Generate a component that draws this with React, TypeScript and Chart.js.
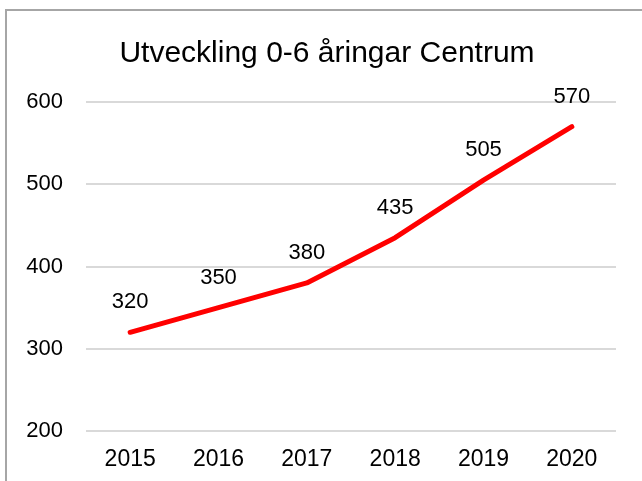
import React, { useEffect, useRef } from "react";
import { Chart, registerables } from "chart.js";

Chart.register(...registerables);

const TITLE = "Utveckling 0-6 åringar Centrum";
const years = ["2015", "2016", "2017", "2018", "2019", "2020"];
const values = [320, 350, 380, 435, 505, 570];
const yMin = 200;
const yMax = 600;
const yStep = 100;

const FONT = "'Liberation Sans', Arial, sans-serif";

const framePlugin = {
  id: "frame",
  beforeDraw(chart: any) {
    const ctx = chart.ctx;
    ctx.save();
    ctx.fillStyle = "#ffffff";
    ctx.fillRect(0, 0, chart.width, chart.height);
    ctx.strokeStyle = "#a6a6a6";
    ctx.lineWidth = 2;
    ctx.beginPath();
    ctx.moveTo(6, chart.height);
    ctx.lineTo(6, 10);
    ctx.lineTo(chart.width, 10);
    ctx.stroke();
    ctx.restore();
  },
};

const titlePlugin = {
  id: "customTitle",
  afterDraw(chart: any) {
    const ctx = chart.ctx;
    ctx.save();
    ctx.fillStyle = "#000000";
    ctx.font = `30px ${FONT}`;
    ctx.textAlign = "center";
    ctx.textBaseline = "alphabetic";
    ctx.fillText(TITLE, 327, 62);
    ctx.restore();
  },
};

const valueLabelPlugin = {
  id: "valueLabels",
  afterDatasetsDraw(chart: any) {
    const ctx = chart.ctx;
    const meta = chart.getDatasetMeta(0);
    const data = chart.data.datasets[0].data;
    ctx.save();
    ctx.fillStyle = "#000000";
    ctx.font = `22px ${FONT}`;
    ctx.textAlign = "center";
    ctx.textBaseline = "alphabetic";
    meta.data.forEach((el: any, i: number) => {
      ctx.fillText(String(data[i]), el.x, el.y - 24);
    });
    ctx.restore();
  },
};

export default function App() {
  const ref = useRef<HTMLCanvasElement | null>(null);

  useEffect(() => {
    document.body.style.margin = "0";
    document.body.style.overflow = "hidden";
    if (!ref.current) return;
    const chart = new Chart(ref.current, {
      type: "line",
      data: {
        labels: years,
        datasets: [
          {
            data: values,
            borderColor: "#ff0000",
            backgroundColor: "#ff0000",
            borderWidth: 5,
            pointRadius: 0,
            tension: 0,
            borderCapStyle: "round",
            borderJoinStyle: "round",
          },
        ],
      },
      options: {
        responsive: false,
        animation: false,
        devicePixelRatio: 1,
        layout: { padding: { top: 102, right: 26, bottom: 0, left: 0 } },
        plugins: {
          legend: { display: false },
          title: { display: false },
          tooltip: { enabled: false },
        },
        scales: {
          x: {
            offset: true,
            grid: { display: false, drawTicks: false },
            border: { display: false },
            ticks: {
              color: "#000000",
              font: { family: FONT, size: 23 },
              padding: 15,
              maxRotation: 0,
            },
            afterFit(scale: any) {
              scale.height = 50;
            },
          },
          y: {
            min: yMin,
            max: yMax,
            grid: { color: "#d9d9d9", lineWidth: 2, drawTicks: false },
            border: { display: false },
            ticks: {
              stepSize: yStep,
              color: "#000000",
              font: { family: FONT, size: 22 },
              padding: 23,
            },
            afterFit(scale: any) {
              scale.width = 86;
            },
          },
        },
      },
      plugins: [framePlugin, valueLabelPlugin, titlePlugin],
    });
    return () => chart.destroy();
  }, []);

  return (
    <canvas
      ref={ref}
      width={642}
      height={481}
      style={{ display: "block", width: 642, height: 481 }}
    />
  );
}
